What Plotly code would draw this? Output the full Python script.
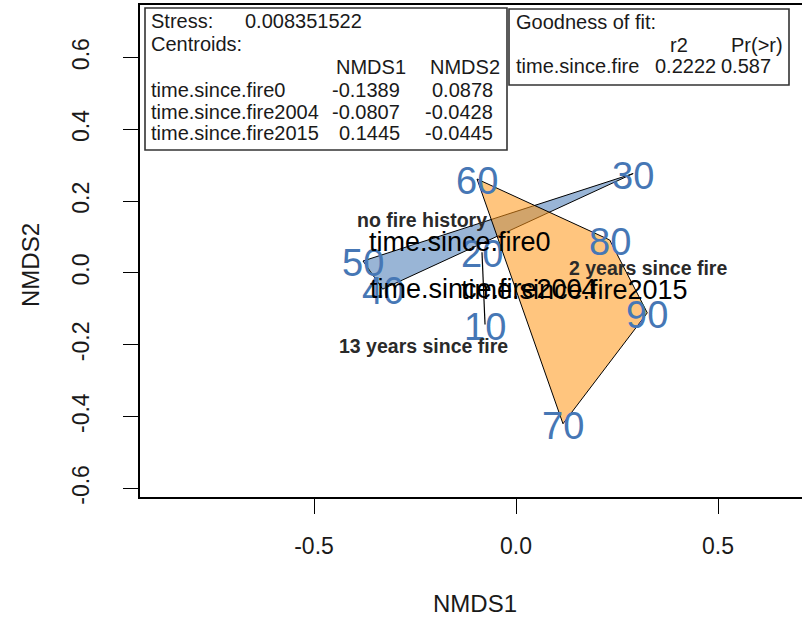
import plotly.graph_objects as go

# ---------------- data ----------------
sites = ["10", "20", "30", "40", "50", "60", "70", "80", "90"]
nmds1 = [-0.0767, -0.0842, 0.290, -0.330, -0.3787, -0.0965, 0.1163, 0.232, 0.325]
nmds2 = [-0.1436, 0.058, 0.277, -0.045, 0.0334, 0.2618, -0.420, 0.0919, -0.111]
site_group = ["2004", "2004", "0", "0", "0", "2015", "2015", "2015", "2015"]

group_order = ["0", "2004", "2015"]
centroid_names = ["time.since.fire0", "time.since.fire2004", "time.since.fire2015"]
centroid_nmds1 = [-0.1389, -0.0807, 0.1445]
centroid_nmds2 = [0.0878, -0.0428, -0.0445]

group_labels = ["no fire history", "2 years since fire", "13 years since fire"]
group_label_x = [-0.233, 0.327, -0.230]
group_label_y = [0.148, 0.014, -0.203]

stress = "0.008351522"
fit_r2 = "0.2222"
fit_p = "0.587"

x_ticks = [-0.5, 0.0, 0.5]
x_ticktext = ["-0.5", "0.0", "0.5"]
y_ticks = [-0.6, -0.4, -0.2, 0.0, 0.2, 0.4, 0.6]
y_ticktext = ["-0.6", "-0.4", "-0.2", "0.0", "0.2", "0.4", "0.6"]

# ---------------- styling ----------------
W, H = 802, 618
ML, MR, MT, MB = 140, 0, 5, 121
FONT = "Liberation Sans, Arial, Helvetica, sans-serif"
BLUE_TXT = "#4677B5"
hull_fill = {"0": "rgba(70,120,180,0.55)", "2015": "rgba(255,150,20,0.55)"}


def hull(points):
    pts = sorted(set(points))
    if len(pts) <= 2:
        return pts

    def cross(o, a, b):
        return (a[0] - o[0]) * (b[1] - o[1]) - (a[1] - o[1]) * (b[0] - o[0])

    lower, upper = [], []
    for p in pts:
        while len(lower) >= 2 and cross(lower[-2], lower[-1], p) <= 0:
            lower.pop()
        lower.append(p)
    for p in reversed(pts):
        while len(upper) >= 2 and cross(upper[-2], upper[-1], p) <= 0:
            upper.pop()
        upper.append(p)
    return lower[:-1] + upper[:-1]


fig = go.Figure()

for g in group_order:
    pts = [(x, y) for x, y, gg in zip(nmds1, nmds2, site_group) if gg == g]
    hp = hull(pts)
    xs = [p[0] for p in hp]
    ys = [p[1] for p in hp]
    if len(hp) > 2:
        xs.append(xs[0])
        ys.append(ys[0])
        fig.add_trace(go.Scatter(x=xs, y=ys, mode="lines", fill="toself",
                                 fillcolor=hull_fill.get(g, "rgba(0,0,0,0)"),
                                 line=dict(color="black", width=1),
                                 hoverinfo="skip", showlegend=False))
    else:
        fig.add_trace(go.Scatter(x=xs, y=ys, mode="lines",
                                 line=dict(color="black", width=1.2),
                                 hoverinfo="skip", showlegend=False))

# site labels (annotations so they can be nudged to R's vertical centring)
for s, x, y in zip(sites, nmds1, nmds2):
    fig.add_annotation(x=x, y=y, text=s, showarrow=False, xanchor="center",
                       yanchor="middle", yshift=-2,
                       font=dict(family=FONT, size=38, color=BLUE_TXT))

# centroid labels
for s, x, y in zip(centroid_names, centroid_nmds1, centroid_nmds2):
    fig.add_annotation(x=x, y=y, text=s, showarrow=False, xanchor="center",
                       yanchor="middle", yshift=-1,
                       font=dict(family=FONT, size=27, color="black"))

# group labels
for s, x, y in zip(group_labels, group_label_x, group_label_y):
    fig.add_annotation(x=x, y=y, text="<b>" + s + "</b>", showarrow=False,
                       xanchor="center", yanchor="middle",
                       font=dict(family=FONT, size=19.5, color="#2a2a2a"))

# ---------------- legend boxes ----------------
PW = W - ML - MR
PH = H - MT - MB


def px(x):
    return (x - ML) / PW


def py(y):
    return (H - MB - y) / PH


def box(x0, y0, x1, y1):
    fig.add_shape(type="rect", xref="paper", yref="paper",
                  x0=px(x0), x1=px(x1), y0=py(y1), y1=py(y0),
                  line=dict(color="#333333", width=1.6),
                  fillcolor="white", layer="above")


def txt(s, x, y, anchor="left", size=20):
    fig.add_annotation(text=s, x=px(x), y=py(y), xref="paper", yref="paper",
                       xanchor=anchor, yanchor="middle", showarrow=False,
                       font=dict(family=FONT, size=size, color="#1a1a1a"))


box(145, 8, 507, 150)
txt("Stress:", 149, 21)
txt(stress, 243, 21)
txt("Centroids:", 149, 44)
txt("NMDS1", 408, 67, "right")
txt("NMDS2", 502, 67, "right")
row_y = [90, 112, 133]
for name, c1, c2, yy in zip(centroid_names, centroid_nmds1, centroid_nmds2, row_y):
    txt(name, 149, yy)
    txt(f"{c1:.4f}", 402, yy, "right")
    txt(f"{c2:.4f}", 495, yy, "right")

box(509, 9, 789, 85)
txt("Goodness of fit:", 514, 22)
txt("r2", 690, 45, "right")
txt("Pr(>r)", 785, 45, "right")
txt("time.since.fire", 514, 66)
txt(fit_r2, 718, 66, "right")
txt(fit_p, 773, 66, "right")

# axis titles
fig.add_annotation(text="NMDS1", x=px(475), y=py(603), xref="paper", yref="paper",
                   xanchor="center", yanchor="middle", showarrow=False,
                   font=dict(family=FONT, size=24, color="#1a1a1a"))
fig.add_annotation(text="NMDS2", x=px(30), y=py(265), xref="paper", yref="paper",
                   xanchor="center", yanchor="middle", showarrow=False, textangle=-90,
                   font=dict(family=FONT, size=24, color="#1a1a1a"))

x0v = -0.9307
x1v = 0.7079
y0v = -0.624
y1v = 0.7465

fig.update_layout(
    width=W, height=H,
    margin=dict(l=ML, r=MR, t=MT, b=MB, pad=0),
    paper_bgcolor="white", plot_bgcolor="white",
    showlegend=False,
    xaxis=dict(range=[x0v, x1v], tickvals=x_ticks, ticktext=x_ticktext,
               showgrid=False, zeroline=False, showline=True, mirror=True,
               linecolor="black", linewidth=1.5, ticks="outside", ticklen=15,
               tickcolor="black", tickwidth=1.2, ticklabelstandoff=13,
               tickfont=dict(family=FONT, size=23, color="#1a1a1a")),
    yaxis=dict(range=[y0v, y1v], tickvals=y_ticks, ticktext=y_ticktext,
               showgrid=False, zeroline=False, showline=True, mirror=False,
               linecolor="black", linewidth=1.5, ticks="outside", ticklen=15,
               tickcolor="black", tickwidth=1.2, tickangle=-90, ticklabelstandoff=25,
               tickfont=dict(family=FONT, size=23, color="#1a1a1a")),
)

fig.write_html("out.html")
